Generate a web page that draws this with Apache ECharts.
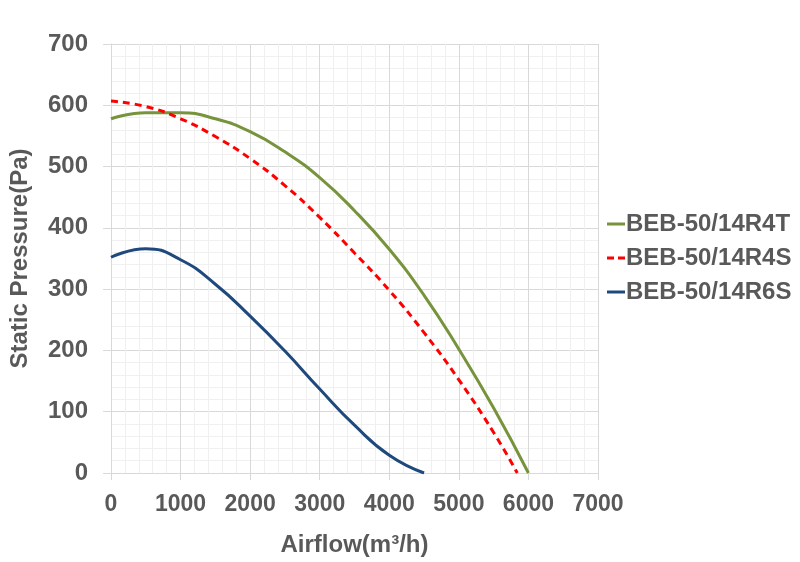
<!DOCTYPE html>
<html lang="en">
<head>
    <meta charset="UTF-8">
    <title>Fan curves</title>
    <style>
        body,html{
            margin: 0;
            height: 100%;
            width: 100%;
            background: #fff;
        }
    </style>
</head>
<body>

<div id="main" style="height: 562px; width:800px;"></div>
<script src="https://cdn.jsdelivr.net/npm/echarts@6/dist/echarts.min.js"></script>
<script>
    // series names
    var names = ['BEB-50/14R4T', 'BEB-50/14R4S', 'BEB-50/14R6S'];

    // airflow (m3/h) and static pressure (Pa)
    var flow4T = [0, 500, 1000, 1500, 2000, 2500, 3000, 3500, 4000, 4500, 5000, 5500, 6000];
    var pres4T = [578, 588, 588, 578, 557, 524, 482, 428, 365, 290, 202, 106, 0];

    var flow4S = [0, 500, 1000, 1500, 2000, 2500, 3000, 3500, 4000, 4500, 5000, 5500, 5840];
    var pres4S = [607, 598, 578, 549, 513, 469, 417, 359, 298, 229, 152, 66, 0];

    var flow6S = [0, 500, 1000, 1500, 2000, 2500, 3000, 3500, 4000, 4500];
    var pres6S = [352, 366, 348, 308, 256, 199, 137, 78, 29, 0];

    function pairs(xs, ys) {
        return xs.map(function (x, i) { return [x, ys[i]]; });
    }

    var textColor = '#595959';
    var font = 'Arial, "Liberation Sans", sans-serif';
    var solidIcon = 'path://M0,0H18V3H0Z';
    var dashIcon = 'path://M0,0H7V3H0Z M11,0H18V3H11Z';

    var myChart = echarts.init(document.getElementById('main'));
    myChart.setOption({
        animation: false,
        grid: {
            left: 108,
            right: 202,
            top: 44,
            bottom: 88
        },
        legend: {
            orient: 'vertical',
            left: 602,
            top: 207,
            itemWidth: 18,
            itemHeight: 3,
            itemGap: 10,
            textStyle: {
                color: textColor,
                fontSize: 24,
                fontWeight: 'bold',
                fontFamily: font,
                padding: [0, 0, 0, -4]
            },
            data: [
                {name: names[0], icon: solidIcon},
                {name: names[1], icon: dashIcon},
                {name: names[2], icon: solidIcon}
            ]
        },
        xAxis: {
            type: 'value',
            min: 0,
            max: 7000,
            interval: 1000,
            name: 'Airflow(m³/h)',
            nameLocation: 'middle',
            nameGap: 60,
            nameTextStyle: {
                color: textColor,
                fontSize: 24,
                fontWeight: 'bold',
                fontFamily: font
            },
            axisLine: {show: true, lineStyle: {color: '#d9d9d9'}},
            axisTick: {show: true, length: 7, lineStyle: {color: '#d9d9d9'}},
            axisLabel: {
                color: textColor,
                fontSize: 23,
                fontWeight: 'bold',
                fontFamily: font,
                margin: 20,
                formatter: function (v) { return String(v); }
            },
            splitLine: {show: true, lineStyle: {color: '#d9d9d9'}},
            minorTick: {show: false, splitNumber: 5},
            minorSplitLine: {show: true, lineStyle: {color: '#f0f0f0'}}
        },
        yAxis: {
            type: 'value',
            min: 0,
            max: 700,
            interval: 100,
            name: 'Static Pressure(Pa)',
            nameLocation: 'middle',
            nameGap: 79,
            nameTextStyle: {
                color: textColor,
                fontSize: 24,
                fontWeight: 'bold',
                fontFamily: font
            },
            axisLine: {show: true, lineStyle: {color: '#d9d9d9'}},
            axisTick: {show: true, length: 8, lineStyle: {color: '#d9d9d9'}},
            axisLabel: {
                color: textColor,
                fontSize: 24,
                fontWeight: 'bold',
                fontFamily: font,
                margin: 23
            },
            splitLine: {show: true, lineStyle: {color: '#d9d9d9'}},
            minorTick: {show: false, splitNumber: 5},
            minorSplitLine: {show: true, lineStyle: {color: '#f0f0f0'}}
        },
        series: [
            {
                name: names[0],
                type: 'line',
                smooth: true,
                symbol: 'none',
                data: pairs(flow4T, pres4T),
                itemStyle: {color: '#77933c'},
                lineStyle: {color: '#77933c', width: 3}
            },
            {
                name: names[1],
                type: 'line',
                smooth: true,
                symbol: 'none',
                data: pairs(flow4S, pres4S),
                itemStyle: {color: '#ff0000'},
                lineStyle: {color: '#ff0000', width: 3, type: [7, 5]}
            },
            {
                name: names[2],
                type: 'line',
                smooth: true,
                symbol: 'none',
                data: pairs(flow6S, pres6S),
                itemStyle: {color: '#1f497d'},
                lineStyle: {color: '#1f497d', width: 3}
            }
        ]
    });
</script>
</body>
</html>
